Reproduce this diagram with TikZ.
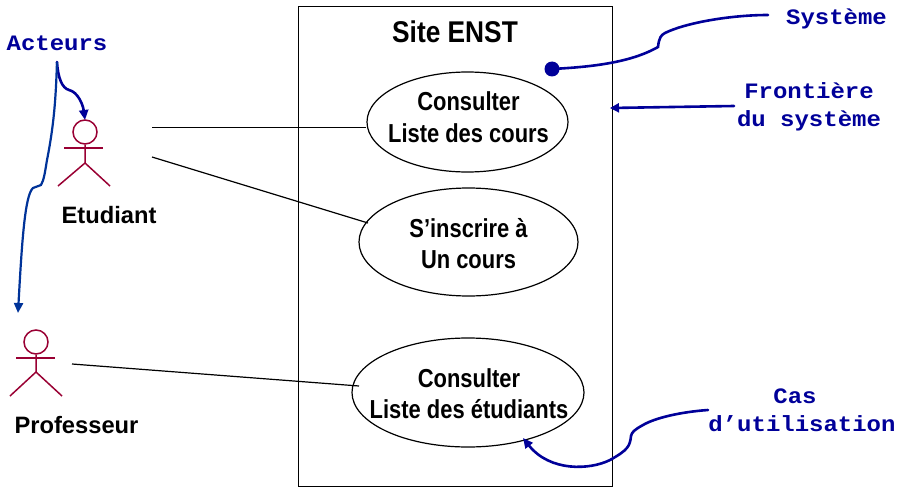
\documentclass[tikz,border=0pt]{standalone}
\usepackage{fontspec}
\setmainfont{Liberation Sans}
\newfontfamily\narrowfont[FakeStretch=0.843]{Liberation Sans}
\newfontfamily\titlefont[FakeStretch=0.877]{Liberation Sans}
\newfontfamily\widemono[FakeStretch=1.09]{Liberation Mono}
\usetikzlibrary{arrows.meta,shapes.geometric}
\definecolor{actorred}{RGB}{153,0,51}
\definecolor{notedark}{RGB}{0,0,153}
\definecolor{noteblue}{RGB}{0,51,153}
\tikzset{
  usecase/.style={draw=black,line width=1.2pt,ellipse,inner sep=0pt},
  caselabel/.style={inner sep=0pt,align=center,font=\narrowfont\bfseries\fontsize{26}{31}\selectfont},
  sysbox/.style={draw=black,line width=1pt},
  assoc/.style={draw=black,line width=1.2pt},
  actorline/.style={draw=actorred,line width=1.5pt},
  actorname/.style={font=\bfseries\fontsize{23.7}{26}\selectfont,inner sep=0pt},
  note/.style={font=\widemono\bfseries\fontsize{22}{28}\selectfont,text=notedark,align=center,inner sep=0pt},
  leader/.style={draw=notedark,line width=2.6pt,line cap=round},
  leadertip/.style={-{Triangle[length=10pt,width=9pt]}},
}
\begin{document}
\begin{tikzpicture}[x=1pt,y=-1pt]
\useasboundingbox (0,0) rectangle (900,487);
\node[sysbox,minimum width=314pt,minimum height=479pt,inner sep=0pt] (sys) at (455,246.5) {};
\node[font=\titlefont\bfseries\fontsize{30}{32}\selectfont,inner sep=0pt] (title) at (455,32) {Site ENST};
\node[usecase,minimum width=201pt,minimum height=100pt] (uc1) at (467.5,122) {};
\node[usecase,minimum width=219pt,minimum height=108pt] (uc2) at (468.5,242) {};
\node[usecase,minimum width=232pt,minimum height=109pt] (uc3) at (468,392.5) {};
\node[caselabel,font=\narrowfont\bfseries\fontsize{26}{32}\selectfont] (t1) at (468.5,117) {Consulter\\Liste des cours};
\node[caselabel] (t2) at (468.5,243.5) {S’inscrire à\\Un cours};
\node[caselabel] (t3) at (469,393.5) {Consulter\\Liste des étudiants};
% actors
\node[actorline,circle,minimum size=24pt,inner sep=0pt] (headA) at (85,132) {};
\draw[actorline] (headA.south) -- (85,163) coordinate (hipA) -- (58,186);
\draw[actorline] (hipA) -- (110,186);
\draw[actorline] (64,148) -- (103,148);
\node[actorline,circle,minimum size=24pt,inner sep=0pt] (headB) at (36,342) {};
\draw[actorline] (headB.south) -- (36,372) coordinate (hipB) -- (10,396);
\draw[actorline] (hipB) -- (62,396);
\draw[actorline] (16,358) -- (55,358);
\node[actorname] (etu) at (109,215.5) {Etudiant};
\node[actorname] (prof) at (76.5,425) {Professeur};
% associations
\coordinate (a1) at (152,127.5);
\coordinate (a2) at (152,157);
\coordinate (a3) at (72,364);
\draw[assoc] (a1) -- (uc1.west |- a1);
\draw[assoc] (a2) -- (368,223);
\draw[assoc] (a3) -- (359,386);
% notes
\node[note] (nAct) at (57,43) {Acteurs};
\node[note] (nSys) at (836.5,19) {Système};
\node[note] (nFront) at (809,106.5) {Frontière\\du système};
\node[note] (nCas) at (802,410) {Cas\hspace*{14pt}\\d’utilisation};
% leaders
\coordinate (l0) at (57,62);
\draw[leader,leadertip] (l0) .. controls (58,78) and (62,88) .. (69,90) .. controls (78,92) and (83,105) .. (85,120);
\draw[draw=noteblue,line width=2.2pt,leadertip] (l0) .. controls (56,90) and (55,120) .. (47,160) .. controls (45,172) and (44,180) .. (41,185) .. controls (38,187) and (36,186) .. (33,188) .. controls (25,195) and (22,240) .. (18,313);
\fill[notedark] (552,69) circle (7.5pt);
\draw[leader] (552,69) .. controls (590,67) and (630,63) .. (658,47) .. controls (659,38) and (661,35) .. (665,33) .. controls (685,23) and (730,15) .. (768,15);
\draw[leader,-{Triangle[length=9pt,width=9pt]}] (734,106) -- (610,108);
\draw[leader,leadertip] (708,410) .. controls (680,412) and (655,418) .. (643,425) .. controls (634,430) and (632,432) .. (631,436) .. controls (630,446) and (628,450) .. (610,460) .. controls (590,470) and (550,472) .. (523,438);
\end{tikzpicture}
\end{document}
